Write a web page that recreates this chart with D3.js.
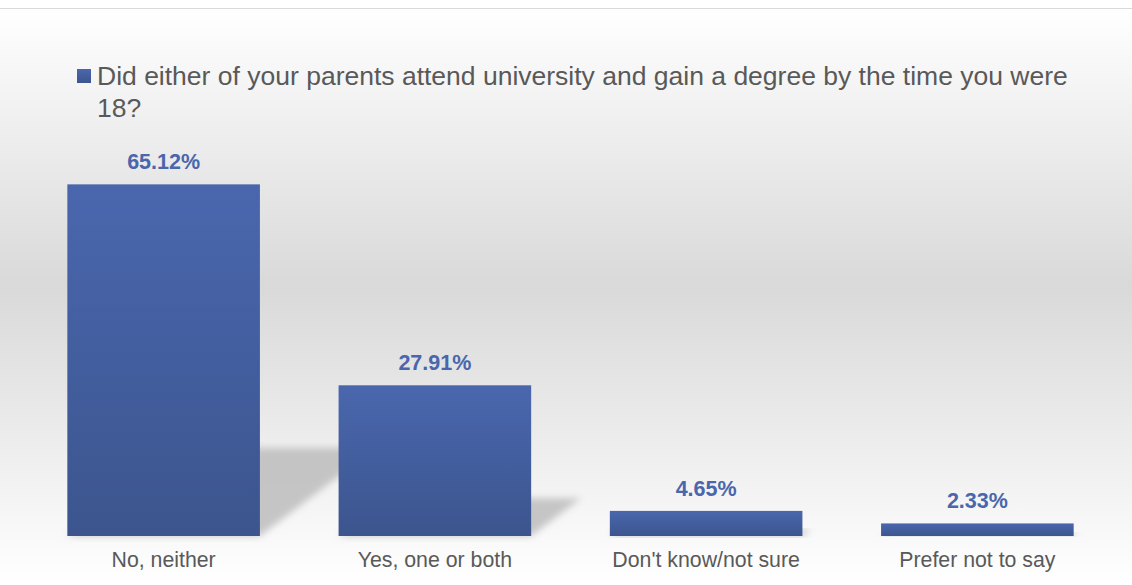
<!DOCTYPE html>
<html>
<head>
<meta charset="utf-8">
<script src="https://cdn.jsdelivr.net/npm/d3@7"></script>
<style>
  html, body { margin: 0; padding: 0; background: #ffffff; }
  svg { display: block; }
  text { font-family: "Liberation Sans", Arial, sans-serif; }
</style>
</head>
<body>
<svg id="chart" width="1132" height="585"></svg>
<script>
// Survey responses (percent of respondents)
const categories = ["No, neither", "Yes, one or both", "Don't know/not sure", "Prefer not to say"];
const values = [65.12, 27.91, 4.65, 2.33];
const seriesName = ["Did either of your parents attend university and gain a degree by the time you were", "18?"];

const W = 1132, H = 585;
const svg = d3.select("#chart");
const defs = svg.append("defs");

// Chart area background: soft vertical grey band
const bg = defs.append("linearGradient").attr("id", "bgGrad")
  .attr("x1", 0).attr("y1", 0).attr("x2", 0).attr("y2", 1);
bg.append("stop").attr("offset", "0%").attr("stop-color", "#ffffff");
bg.append("stop").attr("offset", "48%").attr("stop-color", "#d9d9d9");
bg.append("stop").attr("offset", "100%").attr("stop-color", "#ffffff");

// Bar fill: lighter blue at the top, darker toward the base
const barGrad = defs.append("linearGradient").attr("id", "barGrad")
  .attr("x1", 0).attr("y1", 0).attr("x2", 0).attr("y2", 1);
barGrad.append("stop").attr("offset", "0%").attr("stop-color", "#4a67ae");
barGrad.append("stop").attr("offset", "100%").attr("stop-color", "#3c558e");

const legendGrad = defs.append("linearGradient").attr("id", "legGrad")
  .attr("x1", 0).attr("y1", 0).attr("x2", 0).attr("y2", 1);
legendGrad.append("stop").attr("offset", "0%").attr("stop-color", "#4a67ae");
legendGrad.append("stop").attr("offset", "100%").attr("stop-color", "#3c558e");

defs.append("filter").attr("id", "shadowBlur")
  .attr("x", "-20%").attr("y", "-20%").attr("width", "140%").attr("height", "140%")
  .append("feGaussianBlur").attr("stdDeviation", 3.5);

svg.append("rect").attr("x", 0).attr("y", 9).attr("width", W).attr("height", H - 9)
  .attr("fill", "url(#bgGrad)");
svg.append("line").attr("x1", 0).attr("x2", W).attr("y1", 8.5).attr("y2", 8.5)
  .attr("stroke", "#d9d9d9").attr("stroke-width", 1);

// Scales
const x = d3.scaleBand().domain(categories).range([28, 1113]).paddingInner(0.29).paddingOuter(0.145);
const y = d3.scaleLinear().domain([0, 70]).range([536, 158]);
const data = categories.map((c, i) => ({ c, v: values[i] }));

// Oblique shadows cast to the right of each bar
svg.append("g").selectAll("polygon").data(data).join("polygon")
  .attr("points", d => {
    const x0 = x(d.c), x1 = x0 + x.bandwidth();
    const h = y(0) - y(d.v);
    const dy = h * 0.25, dx = h * 0.33;
    const b = y(0);
    return [[x0, b], [x1, b], [x1 + dx, b - dy], [x0 + dx, b - dy]].map(p => p.join(",")).join(" ");
  })
  .attr("fill", "#bdbdbd")
  .attr("opacity", 0.85)
  .attr("filter", "url(#shadowBlur)");

// Bars
svg.append("g").selectAll("rect").data(data).join("rect")
  .attr("x", d => x(d.c))
  .attr("y", d => y(d.v))
  .attr("width", x.bandwidth())
  .attr("height", d => y(0) - y(d.v))
  .attr("fill", "url(#barGrad)");

// Value labels
svg.append("g").selectAll("text").data(data).join("text")
  .attr("x", d => x(d.c) + x.bandwidth() / 2)
  .attr("y", d => y(d.v) - 15)
  .attr("text-anchor", "middle")
  .attr("font-size", 21.5)
  .attr("font-weight", "bold")
  .attr("fill", "#4a66ac")
  .text(d => d.v.toFixed(2) + "%");

// Category axis labels
const xAxis = d3.axisBottom(x).tickSize(0).tickPadding(0);
const gx = svg.append("g").attr("transform", `translate(0,${y(0)})`).call(xAxis);
gx.select(".domain").remove();
gx.selectAll("text")
  .attr("dy", null)
  .attr("y", 31)
  .attr("font-size", 21.3)
  .attr("font-family", "Liberation Sans, Arial, sans-serif")
  .attr("fill", "#595959");

// Legend
const leg = svg.append("g");
leg.append("rect").attr("x", 77).attr("y", 69).attr("width", 14).attr("height", 14)
  .attr("fill", "url(#legGrad)");
leg.append("text").attr("x", 97).attr("y", 85)
  .attr("font-size", 26.5).attr("fill", "#595959")
  .selectAll("tspan").data(seriesName).join("tspan")
  .attr("x", 97)
  .attr("dy", (d, i) => i === 0 ? 0 : 31.5)
  .text(d => d);
</script>
</body>
</html>
